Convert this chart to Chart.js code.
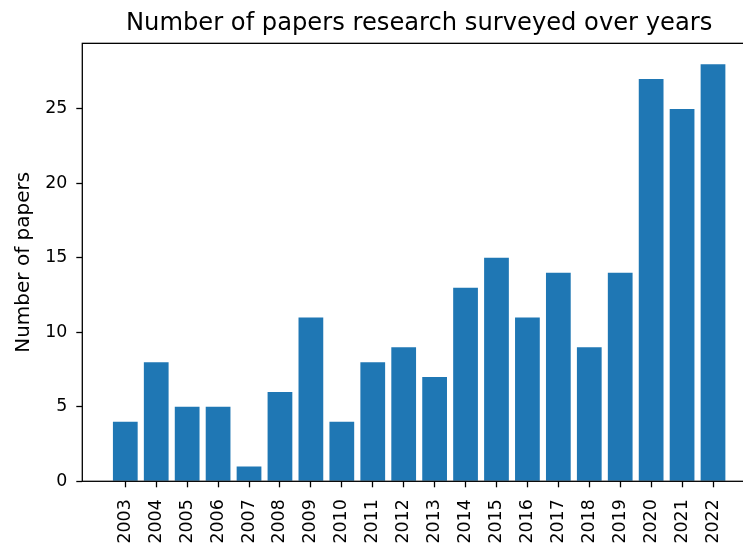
<!DOCTYPE html>
<html>
<head>
<meta charset="utf-8">
<script src="https://cdn.jsdelivr.net/npm/chart.js@4/dist/chart.umd.min.js"></script>
<style>
  html, body { margin: 0; padding: 0; background: #fff; overflow: hidden; }
  /* the figure is slightly wider than the view and runs off its right edge */
  #wrap { width: 743px; height: 548px; overflow: hidden; }
  #c { display: block; }
</style>
</head>
<body>
<div id="wrap"><canvas id="c" width="756" height="548"></canvas></div>
<script>
// Papers surveyed per publication year
const years = ['2003','2004','2005','2006','2007','2008','2009','2010','2011','2012',
               '2013','2014','2015','2016','2017','2018','2019','2020','2021','2022'];
const papers = [4, 8, 5, 5, 1, 6, 11, 4, 8, 9, 7, 13, 15, 11, 14, 9, 14, 27, 25, 28];
const yTicks = [0, 5, 10, 15, 20, 25];

const BAR = '#1f77b4';
const FONT = 'DejaVu Sans';
const TICK_SIZE = 17.4;

// axes frame drawn on all four sides
const frame = {
  id: 'frame',
  afterDatasetsDraw(chart) {
    const { ctx, chartArea: a } = chart;
    ctx.save();
    ctx.strokeStyle = '#000';
    ctx.lineWidth = 1.3;
    ctx.strokeRect(a.left, a.top, a.right - a.left, a.bottom - a.top);
    ctx.restore();
  }
};

const points = years.map((y, i) => ({ x: i, y: papers[i] }));

const tickGrid = {
  display: true,
  drawOnChartArea: false,
  drawTicks: true,
  offset: false,
  tickLength: 6,
  tickWidth: 1.3,
  tickColor: '#000'
};

new Chart(document.getElementById('c'), {
  type: 'bar',
  data: {
    datasets: [{
      data: points,
      backgroundColor: BAR,
      borderWidth: 0,
      barPercentage: 0.8,
      categoryPercentage: 1.0
    }]
  },
  options: {
    responsive: false,
    animation: false,
    devicePixelRatio: 1,
    layout: { padding: 0 },
    plugins: {
      legend: { display: false },
      tooltip: { enabled: false },
      title: {
        display: true,
        fullSize: false,
        text: 'Number of papers research surveyed over years',
        color: '#000',
        font: { family: FONT, size: 24.2, weight: 'normal' },
        padding: { top: 9.5, bottom: 4.8 }
      }
    },
    scales: {
      x: {
        type: 'linear',
        offset: false,
        min: -1.39,
        max: years.length - 1 + 1.39,
        afterBuildTicks(scale) {
          scale.ticks = years.map((y, i) => ({ value: i }));
        },
        afterFit(scale) { scale.height = 66.7; },
        grid: tickGrid,
        border: { display: false },
        ticks: {
          autoSkip: false,
          maxRotation: 90,
          minRotation: 90,
          padding: 12,
          color: '#000',
          font: { family: FONT, size: TICK_SIZE },
          callback: (v) => years[v] ?? ''
        }
      },
      y: {
        type: 'linear',
        offset: false,
        min: 0,
        max: Math.max(...papers) * 1.05,
        afterBuildTicks(scale) {
          scale.ticks = yTicks.map(v => ({ value: v }));
        },
        afterFit(scale) { scale.width = 82.3; },
        grid: tickGrid,
        border: { display: false },
        title: {
          display: true,
          text: 'Number of papers',
          color: '#000',
          font: { family: FONT, size: 20 },
          padding: { top: 12, bottom: 0 }
        },
        ticks: {
          padding: 9,
          color: '#000',
          font: { family: FONT, size: TICK_SIZE }
        }
      }
    }
  },
  plugins: [frame]
});
</script>
</body>
</html>
